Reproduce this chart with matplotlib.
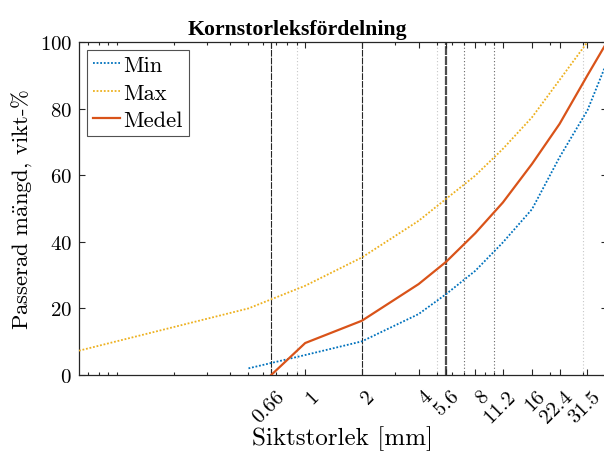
import matplotlib
matplotlib.use("Agg")
import matplotlib.pyplot as plt
from matplotlib.ticker import LogLocator, NullFormatter, FixedLocator, FixedFormatter
from matplotlib.transforms import ScaledTranslation

# sieve sizes (mm) and passing percentages
min_x = [0.5, 1, 2, 4, 5.6, 8, 11.2, 16, 22.4, 31.5, 40]
min_y = [2.0, 6.0, 10.1, 18.3, 24.3, 31.3, 39.8, 49.8, 65.4, 79.5, 94.0]

max_x = [0.063, 0.5, 1, 2, 4, 5.6, 8, 11.2, 16, 22.4, 31.5]
max_y = [7.3, 20.0, 26.8, 35.3, 46.3, 52.9, 59.9, 67.9, 77.4, 88.6, 100.0]

medel_x = [0.66, 1, 2, 4, 5.6, 8, 11.2, 16, 22.4, 31.5, 40]
medel_y = [0.0, 9.6, 16.3, 27.3, 34.0, 42.6, 51.8, 63.4, 75.4, 90.0, 100.0]

# vertical reference lines
dark_lines = [0.66, 2]
thick_lines = [5.6]
mid_lines = [7, 10]
light_lines = [0.9, 5, 30]

tick_vals = [0.66, 1, 2, 4, 5.6, 8, 11.2, 16, 22.4, 31.5]
tick_labels = ["0.66", "1", "2", "4", "5.6", "8", "11.2", "16", "22.4", "31.5"]

plt.rcParams["font.family"] = ["cmr10", "DejaVu Serif"]
plt.rcParams["mathtext.fontset"] = "cm"
plt.rcParams["axes.formatter.use_mathtext"] = True

fig = plt.figure(figsize=(6.04, 4.56), dpi=100)
ax = fig.add_axes([79 / 604, 1 - 376 / 456, 528 / 604, 333 / 456])

for x in dark_lines:
    ax.axvline(x, color="0.15", lw=0.8, ls=(0, (6, 1)), zorder=1)
for x in thick_lines:
    ax.axvline(x, color="0.3", lw=1.6, ls=(0, (4, 0.5)), zorder=1)
for x in mid_lines:
    ax.axvline(x, color="0.4", lw=0.8, ls=(0, (1, 2)), zorder=1)
for x in light_lines:
    ax.axvline(x, color="0.78", lw=0.8, ls=(0, (1, 2)), zorder=1)

ax.plot(min_x, min_y, color="#0072BD", ls=(0, (1, 1)), lw=1.3, label="Min", zorder=3)
ax.plot(max_x, max_y, color="#EDB120", ls=(0, (1, 1)), lw=1.3, label="Max", zorder=3)
ax.plot(medel_x, medel_y, color="#D95319", ls="-", lw=1.6, label="Medel", zorder=3)

ax.set_xscale("log")
ax.set_xlim(0.063, 40)
ax.set_ylim(0, 100)

ax.xaxis.set_major_locator(FixedLocator(tick_vals))
ax.xaxis.set_major_formatter(FixedFormatter(tick_labels))
ax.xaxis.set_minor_locator(LogLocator(base=10, subs=range(1, 10), numticks=20))
ax.xaxis.set_minor_formatter(NullFormatter())
ax.set_yticks([0, 20, 40, 60, 80, 100])

ax.tick_params(which="both", direction="in", top=True, right=True, width=0.8, color="0.15")
ax.tick_params(which="major", length=4.5, labelsize=15)
ax.tick_params(which="minor", length=2.2)
ax.tick_params(axis="y", pad=5)
ax.tick_params(axis="x", pad=13)
shift = ScaledTranslation(7.5 / 72, 0, fig.dpi_scale_trans)
for lab in ax.get_xticklabels():
    lab.set_rotation(45)
    lab.set_ha("right")
    lab.set_va("center")
    lab.set_rotation_mode("anchor")
    lab.set_transform(lab.get_transform() + shift)

for s in ax.spines.values():
    s.set_linewidth(0.9)
    s.set_color("0.15")

ax.set_xlabel("Siktstorlek [mm]", fontsize=18, labelpad=0)
ax.set_ylabel(r"Passerad m$\ddot{\mathrm{a}}$ngd, vikt-%", fontsize=16.3, labelpad=4)
ax.set_title("Kornstorleksfördelning", fontsize=15.7, fontweight="bold",
             family="Liberation Serif", x=(297 - 79) / 528, pad=6)

leg = ax.legend(loc="upper left", fontsize=16.2, handlelength=1.2, handletextpad=0.18,
                labelspacing=0.34, borderpad=0.25, borderaxespad=0.35, fancybox=False)
leg.get_frame().set_edgecolor("0.15")
leg.get_frame().set_linewidth(0.8)

fig.savefig("out.png", dpi=100)
